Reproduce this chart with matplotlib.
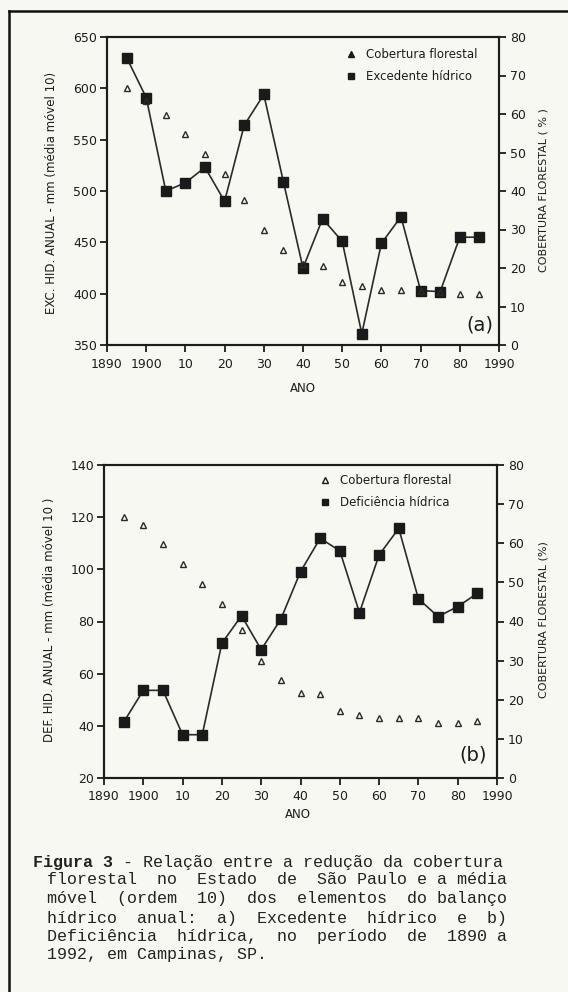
import matplotlib
matplotlib.use('Agg')
import matplotlib.pyplot as plt
from matplotlib.lines import Line2D

# ---------------- data ----------------
years = [1895, 1900, 1905, 1910, 1915, 1920, 1925, 1930, 1935, 1940,
         1945, 1950, 1955, 1960, 1965, 1970, 1975, 1980, 1985]
excedente = [630, 591, 500, 508, 523, 490, 564, 594, 509, 425,
             473, 451, 361, 449, 475, 403, 402, 455, 455]
forest_a = [66.8, 63.5, 59.8, 54.7, 49.7, 44.5, 37.6, 30.0, 24.6, 21.0,
            20.5, 16.4, 15.3, 14.4, 14.3, 14.0, 13.8, 13.2, 13.2]
deficiencia = [41.4, 53.6, 53.6, 36.6, 36.6, 71.7, 82.2, 69.2, 80.9, 99.1,
               111.9, 107.1, 83.4, 105.5, 115.7, 88.7, 81.9, 85.7, 90.8]
forest_b = [66.8, 64.7, 59.8, 54.6, 49.6, 44.5, 37.9, 29.8, 25.1, 21.7,
            21.5, 17.0, 16.2, 15.3, 15.3, 15.3, 14.0, 14.0, 14.5]

xticks = [1890, 1900, 1910, 1920, 1930, 1940, 1950, 1960, 1970, 1980, 1990]
xticklabels = ['1890', '1900', '10', '20', '30', '40', '50', '60', '70', '80', '1990']
yticks_a = [350, 400, 450, 500, 550, 600, 650]
yticks_b = [20, 40, 60, 80, 100, 120, 140]
rticks = [0, 10, 20, 30, 40, 50, 60, 70, 80]

caption_lines = [
    "florestal no Estado de São Paulo e a média",
    "móvel (ordem 10) dos elementos do balanço",
    "hídrico anual: a) Excedente hídrico e b)",
    "Deficiência hídrica, no período de 1890 a",
]
caption_head = "Figura 3"
caption_first = " - Relação entre a redução da cobertura"
caption_last = "1992, em Campinas, SP."

# ---------------- style ----------------
W, H = 568, 992
BG = '#f8f8f2'
INK = '#1c1c1c'
plt.rcParams['font.family'] = ['DejaVu Sans']

fig = plt.figure(figsize=(W / 100, H / 100), dpi=100, facecolor=BG)


def px(x, y):
    return x / W, 1 - y / H


def axes_px(left, top, right, bottom):
    return fig.add_axes([left / W, 1 - bottom / H, (right - left) / W, (bottom - top) / H])


def style_axes(ax, ax2, ylim, yticks):
    ax.set_facecolor('none')
    ax.set_xlim(1890, 1990)
    ax.set_ylim(*ylim)
    ax.set_xticks(xticks)
    ax.set_xticklabels(xticklabels)
    ax.set_yticks(yticks)
    ax2.set_ylim(0, 80)
    ax2.set_yticks(rticks)
    for a in (ax, ax2):
        for s in a.spines.values():
            s.set_linewidth(1.5)
            s.set_color(INK)
    ax.tick_params(axis='both', direction='out', length=5, width=1.3, labelsize=9,
                   colors=INK, pad=2)
    ax.tick_params(axis='x', pad=4)
    ax2.tick_params(axis='y', direction='out', length=5, width=1.3, labelsize=9,
                    colors=INK, pad=3)


def draw_panel(ax, ax2, values, forest):
    ax.plot(years, values, color='#2a2a2a', lw=1.2, marker='s', ms=7,
            mfc='#1a1a1a', mec='#1a1a1a', zorder=3)
    ax2.plot(years, forest, ls='none', marker='^', ms=5, mfc='none',
             mec='#2a2a2a', mew=1.0, zorder=2)


# ---- panel (a) ----
axa = axes_px(107, 37, 499, 345)
axa2 = axa.twinx()
style_axes(axa, axa2, (350, 650), yticks_a)
draw_panel(axa, axa2, excedente, forest_a)

# ---- panel (b) ----
axb = axes_px(104, 465, 497, 778)
axb2 = axb.twinx()
style_axes(axb, axb2, (20, 140), yticks_b)
draw_panel(axb, axb2, deficiencia, forest_b)

# legends
def make_legend(ax, labels, anchor, tri_fill):
    h = [Line2D([], [], ls='none', marker='^', ms=4.5, mfc=tri_fill, mec='#1a1a1a', mew=1.0),
         Line2D([], [], ls='none', marker='s', ms=5, mfc='#1a1a1a', mec='#1a1a1a')]
    ax.legend(h, labels, loc='upper left', bbox_to_anchor=px(*anchor),
              bbox_transform=fig.transFigure, frameon=False, fontsize=8.5,
              handlelength=0.8, handletextpad=0.9, labelspacing=0.75,
              borderpad=0, borderaxespad=0, labelcolor=INK)

make_legend(axa2, ['Cobertura florestal', 'Excedente hídrico'], (346, 48), '#1a1a1a')
make_legend(axb2, ['Cobertura florestal', 'Deficiência hídrica'], (320, 474), 'none')

# axis labels
fig.text(*px(303, 388), 'ANO', ha='center', va='center', fontsize=8.5, color=INK)
fig.text(*px(298, 815), 'ANO', ha='center', va='center', fontsize=8.5, color=INK)
fig.text(*px(52, 193), 'EXC. HID. ANUAL - mm (média móvel 10)', rotation=90,
         ha='center', va='center', fontsize=8.5, color=INK)
fig.text(*px(50, 620), 'DEF. HID. ANUAL - mm (média móvel 10 )', rotation=90,
         ha='center', va='center', fontsize=8.5, color=INK)
fig.text(*px(544, 190), 'COBERTURA FLORESTAL ( % )', rotation=90,
         ha='center', va='center', fontsize=8, color=INK)
fig.text(*px(543, 620), 'COBERTURA FLORESTAL (%)', rotation=90,
         ha='center', va='center', fontsize=8, color=INK)
fig.text(*px(480, 325), '(a)', ha='center', va='center', fontsize=14, color=INK)
fig.text(*px(473, 755), '(b)', ha='center', va='center', fontsize=14, color=INK)

# frame
fig.add_artist(Line2D([9 / W, 9 / W], [0, 1 - 11 / H], transform=fig.transFigure,
                      color='#111111', lw=1.8))
fig.add_artist(Line2D([9 / W, 1], [1 - 11 / H, 1 - 11 / H], transform=fig.transFigure,
                      color='#111111', lw=1.8))

# caption (monospace, justified)
def justify(s, width):
    words = s.split()
    gaps = len(words) - 1
    extra = width - sum(len(w) for w in words)
    out = words[0]
    for i, w in enumerate(words[1:]):
        out += ' ' * (extra // gaps + (1 if i < extra % gaps else 0)) + w
    return out

mono = dict(family='Liberation Mono', fontsize=12, color='#222222', va='center', ha='left')
fig.text(*px(33, 862), caption_head, fontweight='bold', **mono)
fig.text(*px(33 + 80, 862), caption_first, **mono)
ys = [880, 899, 918, 937]
for y, line in zip(ys, caption_lines):
    fig.text(*px(47, y), justify(line, 46), **mono)
fig.text(*px(47, 955), caption_last, **mono)

fig.savefig('out.png', dpi=100, facecolor=BG)
